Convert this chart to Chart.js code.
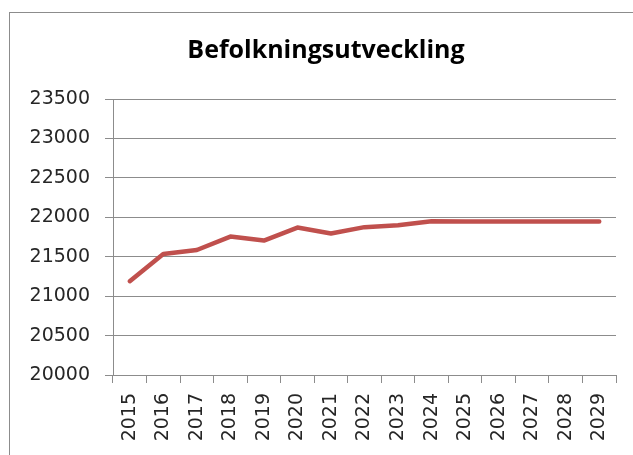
<!DOCTYPE html>
<html lang="sv">
<head>
    <meta charset="UTF-8">
    <title>Befolkningsutveckling</title>
    <script src="https://cdn.jsdelivr.net/npm/chart.js"></script>
    <style>
        html, body {
            margin: 0;
            padding: 0;
            background: #ffffff;
            overflow: hidden;
            width: 633px;
            height: 455px;
        }
        #frame {
            position: absolute;
            left: 9px;
            top: 12px;
            width: 700px;
            height: 500px;
            border: 1px solid #8c8c8c;
        }
        #chart {
            position: absolute;
            left: 0;
            top: 0;
        }
        #title {
            position: absolute;
            left: 0;
            top: 33px;
            width: 652px;
            text-align: center;
            font-family: 'Open Sans', sans-serif;
            font-weight: bold;
            font-size: 25px;
            line-height: 30px;
            color: #000000;
        }
    </style>
</head>
<body>
    <div id="frame"></div>
    <canvas id="chart" width="652" height="455"></canvas>
    <div id="title">Befolkningsutveckling</div>

    <script>
        // Data
        const years = ['2015', '2016', '2017', '2018', '2019', '2020', '2021', '2022',
                       '2023', '2024', '2025', '2026', '2027', '2028', '2029'];
        const population = [21190, 21535, 21585, 21755, 21705, 21870, 21795, 21875,
                            21900, 21950, 21948, 21948, 21948, 21948, 21948];
        const yMin = 20000;
        const yMax = 23500;
        const yStep = 500;

        const gridColor = '#8c8c8c';
        const tickFont = { family: 'DejaVu Sans', size: 19 };

        const ctx = document.getElementById('chart').getContext('2d');
        const chart = new Chart(ctx, {
            type: 'line',
            data: {
                labels: years,
                datasets: [{
                    label: 'Befolkning',
                    data: population,
                    borderColor: '#c0504d',
                    borderWidth: 4.5,
                    borderCapStyle: 'round',
                    borderJoinStyle: 'round',
                    pointRadius: 0,
                    tension: 0,
                    fill: false
                }]
            },
            options: {
                responsive: false,
                animation: false,
                layout: {
                    padding: { left: 0, right: 36, top: 99, bottom: 0 }
                },
                plugins: {
                    legend: { display: false },
                    tooltip: { enabled: false },
                    title: { display: false }
                },
                scales: {
                    x: {
                        offset: true,
                        grid: {
                            offset: true,
                            drawOnChartArea: false,
                            drawTicks: true,
                            tickLength: 8,
                            color: gridColor
                        },
                        border: { display: true, color: gridColor, width: 1 },
                        ticks: {
                            autoSkip: false,
                            minRotation: 90,
                            maxRotation: 90,
                            padding: 10,
                            color: '#262626',
                            font: tickFont
                        },
                        afterFit: function(scale) { scale.height = 80; }
                    },
                    y: {
                        min: yMin,
                        max: yMax,
                        grid: {
                            color: gridColor,
                            tickLength: 8
                        },
                        border: { display: true, color: gridColor, width: 1 },
                        ticks: {
                            stepSize: yStep,
                            padding: 15,
                            color: '#262626',
                            font: tickFont,
                            callback: function(value) { return String(value); }
                        },
                        afterFit: function(scale) { scale.width = 113; }
                    }
                }
            }
        });
    </script>
</body>
</html>
